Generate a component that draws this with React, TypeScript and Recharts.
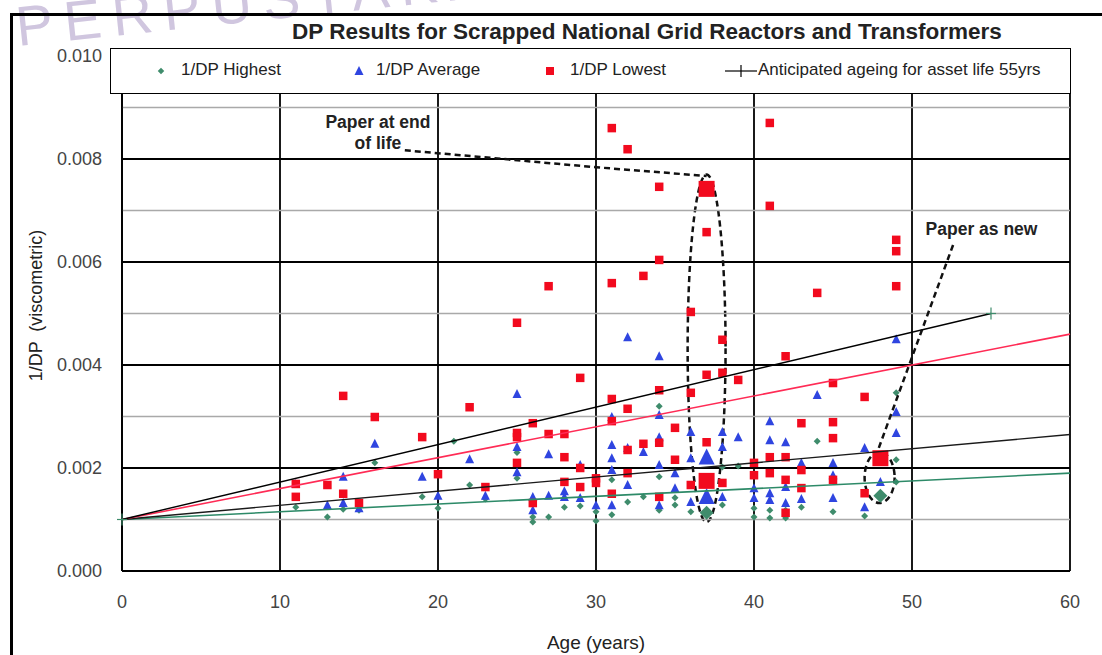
import React from "react";
import {
  ReferenceArea,
  ReferenceDot,
  ReferenceLine,
  CartesianGrid,
  Scatter,
  ScatterChart,
  XAxis,
  YAxis,
} from "recharts";

// Axis ticks
const ageTicks = [0, 10, 20, 30, 40, 50, 60];
const dpTicks = [0, 0.002, 0.004, 0.006, 0.008, 0.01];
const minorDpTicks = [0.001, 0.003, 0.005, 0.007, 0.009];

// [age (years), 1/DP]
const highest: [number, number][] = [
  [11, 0.00124], [13, 0.00105], [14, 0.0012], [15, 0.00118], [16, 0.0021],
  [19, 0.00144], [20, 0.00122], [21, 0.00252], [22, 0.00167], [23, 0.0014],
  [25, 0.0018], [25, 0.0023], [26, 0.00105], [26, 0.00095], [27, 0.00105],
  [28, 0.00124], [29, 0.00126], [30, 0.00115], [30, 0.00097], [31, 0.00177],
  [31, 0.00109], [32, 0.00134], [33, 0.00144], [34, 0.0032], [34, 0.00183],
  [34, 0.00118], [35, 0.00142], [35, 0.00128], [36, 0.00115], [38, 0.00202],
  [38, 0.00128], [39, 0.00204], [40, 0.00122], [40, 0.00105], [41, 0.00118],
  [41, 0.00103], [42, 0.00118], [42, 0.00103], [43, 0.00124], [44, 0.00252],
  [45, 0.00115], [47, 0.00107], [49, 0.00346], [49, 0.00216], [49, 0.00173],
];
const highestMarked: [number, number][] = [[37, 0.00113], [48, 0.00146]];

const average: [number, number][] = [
  [11, 0.00169], [13, 0.00128], [14, 0.00183], [14, 0.00132], [15, 0.00122],
  [16, 0.00247], [19, 0.00183], [20, 0.00146], [22, 0.00217], [23, 0.00146],
  [25, 0.00344], [25, 0.00241], [25, 0.00192], [26, 0.00144], [26, 0.00118],
  [27, 0.00227], [27, 0.00146], [28, 0.00155], [28, 0.00144], [29, 0.00206],
  [29, 0.00142], [30, 0.00128], [31, 0.00299], [31, 0.00245], [31, 0.00219],
  [31, 0.00196], [31, 0.00128], [32, 0.00454], [32, 0.00239], [32, 0.00167],
  [33, 0.00231], [34, 0.00417], [34, 0.00303], [34, 0.0026], [34, 0.00206],
  [34, 0.00128], [35, 0.0019], [35, 0.00161], [36, 0.0027], [36, 0.00219],
  [36, 0.00134], [38, 0.0027], [38, 0.00241], [38, 0.00144], [39, 0.0026],
  [40, 0.00161], [40, 0.00142], [41, 0.00291], [41, 0.00254], [41, 0.00151],
  [41, 0.00138], [42, 0.0025], [42, 0.00163], [42, 0.00132], [43, 0.0021],
  [43, 0.0014], [44, 0.00342], [45, 0.0021], [45, 0.00186], [45, 0.00142],
  [47, 0.00239], [47, 0.00124], [48, 0.00173], [49, 0.0045], [49, 0.00309],
  [49, 0.00268],
];
const averageMarked: [number, number][] = [[37, 0.00221], [37, 0.00144]];

const lowest: [number, number][] = [
  [11, 0.00169], [11, 0.00144], [13, 0.00167], [14, 0.0034], [14, 0.0015],
  [15, 0.00132], [16, 0.00299], [19, 0.0026], [20, 0.00188], [22, 0.00318],
  [23, 0.00163], [25, 0.00482], [25, 0.00268], [25, 0.0026], [25, 0.0021],
  [26, 0.00287], [26, 0.00132], [27, 0.00553], [27, 0.00266], [28, 0.00266],
  [28, 0.00221], [28, 0.00173], [29, 0.00375], [29, 0.002], [29, 0.00163],
  [30, 0.0018], [30, 0.00171], [31, 0.0086], [31, 0.00559], [31, 0.00334],
  [31, 0.00291], [31, 0.0015], [32, 0.00819], [32, 0.00315], [32, 0.00235],
  [32, 0.0019], [33, 0.00573], [33, 0.00247], [34, 0.00746], [34, 0.00604],
  [34, 0.00351], [34, 0.00249], [34, 0.00144], [35, 0.00278], [35, 0.00216],
  [36, 0.00503], [36, 0.00346], [36, 0.00167], [37, 0.00658], [37, 0.00381],
  [37, 0.0025], [38, 0.00449], [38, 0.00385], [38, 0.00171], [39, 0.00371],
  [40, 0.0021], [40, 0.00186], [41, 0.0087], [41, 0.00709], [41, 0.00221],
  [41, 0.0019], [42, 0.00417], [42, 0.00221], [42, 0.00177], [42, 0.00113],
  [43, 0.00287], [43, 0.00196], [43, 0.00161], [44, 0.0054], [45, 0.00365],
  [45, 0.00289], [45, 0.00258], [45, 0.00177], [47, 0.00338], [47, 0.00151],
  [49, 0.00643], [49, 0.00621], [49, 0.00553],
];
const lowestMarked: [number, number][] = [[37, 0.00742], [37, 0.00175], [48, 0.00219]];

// Straight lines (start and end points)
const anticipated: [number, number][] = [[0, 0.001], [55, 0.005]];
const trendLowest: [number, number][] = [[0, 0.001], [60, 0.0046]];
const trendAverage: [number, number][] = [[0, 0.001], [60, 0.00265]];
const trendHighest: [number, number][] = [[0, 0.001], [60, 0.0019]];

// Annotation geometry in data units
const endOfLifeLeader: [number, number][] = [[17.9, 0.00817], [30, 0.00784], [37, 0.00767]];
const asNewLeader: [number, number][] = [[52.6, 0.00633], [47.85, 0.00235]];

const rows = (d: [number, number][]) => d.map(([age, dp]) => ({ age, dp }));

const RED = "#f20a1e";
const BLUE = "#2f45e0";
const GREEN = "#3f8c6c";
const FONT = '"Liberation Sans", Arial, sans-serif';

const square = (s: number) => (p: any) =>
  <rect x={p.cx - s / 2} y={p.cy - s / 2} width={s} height={s} fill={RED} />;
const triangle = (s: number) => (p: any) => (
  <polygon
    points={`${p.cx},${p.cy - s * 0.55} ${p.cx + s / 2},${p.cy + s * 0.45} ${p.cx - s / 2},${p.cy + s * 0.45}`}
    fill={BLUE}
  />
);
const diamond = (s: number) => (p: any) => (
  <polygon
    points={`${p.cx},${p.cy - s / 2} ${p.cx + s / 2},${p.cy} ${p.cx},${p.cy + s / 2} ${p.cx - s / 2},${p.cy}`}
    fill={GREEN}
  />
);
const plus = (p: any) => (
  <g stroke={GREEN} strokeWidth={1.2}>
    <line x1={p.cx - 5} x2={p.cx + 5} y1={p.cy} y2={p.cy} />
    <line x1={p.cx} x2={p.cx} y1={p.cy - 6} y2={p.cy + 6} />
  </g>
);
const none = () => <g />;

const dashed = { stroke: "#111", strokeWidth: 2.5, strokeDasharray: "6 4" };

const ellipseShape = (p: any) => (
  <ellipse
    cx={p.x + p.width / 2}
    cy={p.y + p.height / 2}
    rx={p.width / 2}
    ry={p.height / 2}
    fill="none"
    {...dashed}
  />
);

const noteShape = (lines: string[]) => (p: any) => (
  <text
    x={p.cx}
    y={p.cy}
    textAnchor="middle"
    fontFamily={FONT}
    fontWeight="bold"
    fontSize={17.5}
    fill="#222"
  >
    {lines.map((l, i) => (
      <tspan key={i} x={p.cx} dy={i === 0 ? 0 : 21}>
        {l}
      </tspan>
    ))}
  </text>
);

function LegendBox() {
  const text = { position: "absolute" as const, top: 11, fontSize: 17, color: "#222", whiteSpace: "nowrap" as const };
  return (
    <div
      style={{
        position: "absolute",
        left: 110,
        top: 48,
        width: 959,
        height: 44,
        border: "1.5px solid #000",
        background: "#fff",
        fontFamily: FONT,
      }}
    >
      <svg width={959} height={44} style={{ position: "absolute", left: 0, top: 0 }}>
        {diamond(6.5)({ cx: 50, cy: 22 })}
        {triangle(9)({ cx: 248, cy: 22 })}
        {square(8)({ cx: 439, cy: 22 })}
        <line x1={614} x2={646} y1={22} y2={22} stroke="#000" strokeWidth={1.2} />
        <line x1={630} x2={630} y1={16} y2={28} stroke="#000" strokeWidth={1.2} />
      </svg>
      <span style={{ ...text, left: 70 }}>1/DP Highest</span>
      <span style={{ ...text, left: 265 }}>1/DP Average</span>
      <span style={{ ...text, left: 459 }}>1/DP Lowest</span>
      <span style={{ ...text, left: 647 }}>Anticipated ageing for asset life 55yrs</span>
    </div>
  );
}

export default function App() {
  return (
    <div
      style={{
        position: "absolute",
        left: 0,
        top: 0,
        width: 1102,
        height: 655,
        overflow: "hidden",
        background: "#fff",
        fontFamily: FONT,
      }}
    >
      <svg width={1102} height={80} style={{ position: "absolute", left: 0, top: 0 }}>
        <text
          x={18}
          y={46}
          transform="rotate(-6 18 46)"
          fontSize={56}
          letterSpacing={11}
          fill="#d0c6df"
          fontFamily={FONT}
        >
          PERPUSTAKAAN
        </text>
      </svg>
      <div
        style={{
          position: "absolute",
          left: 10,
          top: 13,
          width: 1110,
          height: 700,
          border: "3px solid #000",
        }}
      />
      <ScatterChart
        width={1102}
        height={655}
        margin={{ top: 56, right: 32, bottom: 4, left: 22 }}
        style={{ position: "absolute", left: 0, top: 0 }}
      >
        <CartesianGrid stroke="#000" strokeWidth={1.8} horizontalValues={dpTicks} verticalValues={ageTicks} />
        {minorDpTicks.map((v) => (
          <ReferenceLine key={v} y={v} stroke="#a9a9a9" strokeWidth={1.6} />
        ))}
        <XAxis
          type="number"
          dataKey="age"
          domain={[0, 60]}
          ticks={ageTicks}
          tickSize={0}
          tickMargin={24}
          height={80}
          axisLine={{ stroke: "#000", strokeWidth: 1.8 }}
          tick={{ fontSize: 18, fill: "#444", fontFamily: FONT }}
          label={{
            content: ({ viewBox }: any) => (
              <text
                x={viewBox.x + viewBox.width / 2}
                y={viewBox.y + 78}
                textAnchor="middle"
                fontSize={19}
                fill="#222"
                fontFamily={FONT}
              >
                Age (years)
              </text>
            ),
          }}
        />
        <YAxis
          type="number"
          dataKey="dp"
          domain={[0, 0.01]}
          ticks={dpTicks}
          tickFormatter={(v: number) => v.toFixed(3)}
          tickSize={0}
          tickMargin={20}
          width={100}
          axisLine={{ stroke: "#000", strokeWidth: 1.8 }}
          tick={{ fontSize: 18, fill: "#444", fontFamily: FONT }}
          label={{
            content: ({ viewBox }: any) => {
              const x = viewBox.x + 14;
              const y = viewBox.y + viewBox.height / 2 - 8;
              return (
                <text
                  x={x}
                  y={y}
                  transform={`rotate(-90 ${x} ${y})`}
                  textAnchor="middle"
                  dominantBaseline="central"
                  fontSize={18}
                  fill="#222"
                  fontFamily={FONT}
                  style={{ whiteSpace: "pre" }}
                >
                  1/DP  (viscometric)
                </text>
              );
            },
          }}
        />

        <Scatter data={rows(highest)} shape={diamond(7)} isAnimationActive={false} />
        <Scatter data={rows(highestMarked)} shape={diamond(14)} isAnimationActive={false} />
        <Scatter data={rows(average)} shape={triangle(9)} isAnimationActive={false} />
        <Scatter data={rows(averageMarked)} shape={triangle(16)} isAnimationActive={false} />
        <Scatter data={rows(lowest)} shape={square(8.5)} isAnimationActive={false} />
        <Scatter data={rows(lowestMarked)} shape={square(16)} isAnimationActive={false} />

        <Scatter
          data={rows(trendHighest)}
          line={{ stroke: "#2d8a68", strokeWidth: 1.6 }}
          shape={none}
          isAnimationActive={false}
        />
        <Scatter
          data={rows(trendAverage)}
          line={{ stroke: "#1a1a1a", strokeWidth: 1.4 }}
          shape={none}
          isAnimationActive={false}
        />
        <Scatter
          data={rows(trendLowest)}
          line={{ stroke: "#ff2b55", strokeWidth: 1.6 }}
          shape={none}
          isAnimationActive={false}
        />
        <Scatter
          data={rows(anticipated)}
          line={{ stroke: "#000", strokeWidth: 1.4 }}
          shape={plus}
          isAnimationActive={false}
        />

        <Scatter data={rows(endOfLifeLeader)} line={dashed} shape={none} isAnimationActive={false} />
        <Scatter data={rows(asNewLeader)} line={dashed} shape={none} isAnimationActive={false} />
        <ReferenceArea x1={35.8} x2={38.2} y1={0.00095} y2={0.0077} shape={ellipseShape} />
        <ReferenceArea x1={47.0} x2={48.9} y1={0.00132} y2={0.00231} shape={ellipseShape} />
        <ReferenceDot x={16.2} y={0.0086} r={0} shape={noteShape(["Paper at end", "of life"])} />
        <ReferenceDot x={54.4} y={0.00652} r={0} shape={noteShape(["Paper as new"])} />
      </ScatterChart>
      <div
        style={{
          position: "absolute",
          left: 0,
          width: 1294,
          top: 19,
          textAlign: "center",
          fontSize: 22.5,
          fontWeight: "bold",
          color: "#222",
          whiteSpace: "nowrap",
        }}
      >
        DP Results for Scrapped National Grid Reactors and Transformers
      </div>
      <LegendBox />
    </div>
  );
}
